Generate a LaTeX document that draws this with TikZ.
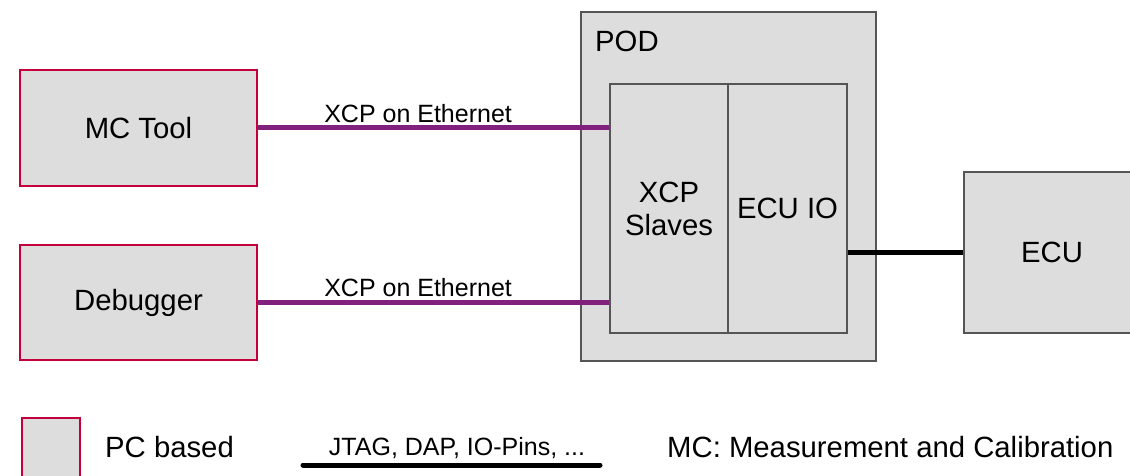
\documentclass[tikz,border=0pt]{standalone}
\usepackage{fontspec}
\setmainfont{Liberation Sans}
\definecolor{boxfill}{HTML}{DDDDDD}
\definecolor{boxgray}{HTML}{555555}
\definecolor{pcred}{HTML}{C4003C}
\definecolor{xcppurple}{HTML}{82207E}
\begin{document}
\begin{tikzpicture}[x=1pt,y=-1pt,
  big/.style={font=\fontsize{29.3}{33}\selectfont},
  small/.style={font=\fontsize{25}{29}\selectfont},
  pcbox/.style={draw=pcred,line width=2.8pt,fill=boxfill,inner sep=0pt,big,align=center},
  graybox/.style={draw=boxgray,line width=2.8pt,fill=boxfill,inner sep=0pt,big,align=center},
  xcpline/.style={draw=xcppurple,line width=5pt},
  jtagline/.style={draw=black,line width=5pt}]
\clip (0,0) rectangle (1130,476);
\fill[white] (0,0) rectangle (1130,476);
% POD outer
\node[graybox,minimum width=295pt,minimum height=349pt] (pod) at (728.5,186.5) {};
\node[big,anchor=base west,inner sep=0pt] (podlabel) at (595,52) {POD};
% inner boxes
\node[graybox,minimum width=118pt,minimum height=249pt] (slaves) at (669,208.5) {XCP\\Slaves};
\node[graybox,minimum width=119pt,minimum height=249pt] (ecuio) at (787.5,208.5) {ECU IO};
% PC boxes
\node[pcbox,minimum width=237pt,minimum height=116pt] (mc) at (138.5,128) {MC Tool};
\node[pcbox,minimum width=237pt,minimum height=115pt] (dbg) at (138.5,302.5) {Debugger};
% ECU
\node[graybox,minimum width=176pt,minimum height=161pt] (ecu) at (1052,252.5) {ECU};
% connectors
\draw[xcpline] (mc.east) -- (mc.east -| slaves.west)
  node[pos=0.456,above=1pt,small,inner sep=2pt] (lab1) {XCP on Ethernet};
\draw[xcpline] (dbg.east) -- (dbg.east -| slaves.west)
  node[pos=0.456,above=1pt,small,inner sep=2pt] (lab2) {XCP on Ethernet};
\draw[jtagline] (ecu.west -| ecuio.east) -- (ecu.west);
% legend
\node[pcbox,minimum width=58pt,minimum height=76pt] (legbox) at (51,456) {};
\node[big,anchor=base west,inner sep=0pt] (legpc) at (105,457) {PC based};
\node[small,anchor=base,inner sep=0pt] (legjtag) at (457,455) {JTAG, DAP, IO-Pins, ...};
\coordinate (jl) at (303,465);
\coordinate (jr) at (600,465);
\draw[jtagline,line cap=round] (jl) -- (jr);
\node[big,anchor=base west,inner sep=0pt] (legmc) at (667,457) {MC: Measurement and Calibration};
\end{tikzpicture}
\end{document}
